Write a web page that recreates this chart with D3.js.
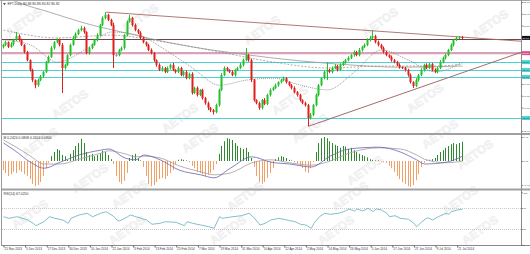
<!DOCTYPE html>
<html>
<head>
<meta charset="utf-8">
<script src="https://cdn.jsdelivr.net/npm/d3@7"></script>
<style>
  body { margin: 0; background: #fff; }
  svg { display: block; }
  text { font-family: "Liberation Sans", Arial, sans-serif; }
</style>
</head>
<body>
<svg id="chart" width="530" height="254"></svg>
<script>
// données (une barre par jour)
const closes = [
  80.60, 80.67, 80.55, 80.62, 80.73, 80.83, 80.73, 80.60, 80.42, 80.21,
  79.96, 79.70, 79.57, 79.70, 79.80, 79.91, 80.16, 80.29, 80.52, 80.67,
  80.73, 80.60, 80.01, 80.09, 80.34, 80.60, 80.78, 80.88, 80.98, 81.03,
  80.93, 80.39, 80.52, 80.60, 80.73, 80.85, 81.11, 81.29, 81.37, 81.24,
  81.11, 80.34, 80.34, 80.47, 80.52, 80.85, 81.19, 81.29, 81.11, 80.98,
  80.91, 80.78, 80.67, 80.60, 80.47, 80.39, 80.21, 80.09, 79.96, 80.01,
  79.91, 80.01, 80.09, 79.96, 79.91, 80.01, 79.83, 79.91, 79.75, 79.86,
  79.37, 79.50, 79.32, 79.45, 79.24, 79.11, 78.99, 78.93, 78.88, 79.06,
  79.45, 79.83, 80.01, 79.96, 79.91, 79.83, 79.96, 80.01, 80.09, 80.21,
  80.34, 80.21, 79.70, 79.19, 79.11, 78.99, 79.19, 79.09, 79.32, 79.45,
  79.50, 79.57, 79.65, 79.70, 79.75, 79.65, 79.57, 79.50, 79.39, 79.32,
  79.19, 79.11, 79.06, 78.73, 78.81, 79.06, 79.32, 79.57, 79.75, 79.91,
  79.96, 79.91, 80.01, 80.06, 79.96, 80.09, 80.16, 80.21, 80.27, 80.34,
  80.42, 80.34, 80.47, 80.55, 80.60, 80.73, 80.78, 80.83, 80.67, 80.60,
  80.52, 80.42, 80.34, 80.29, 80.21, 80.16, 80.09, 80.03, 80.01, 79.96,
  79.83, 79.65, 79.55, 79.70, 79.83, 79.96, 80.09, 80.01, 80.11, 79.96,
  79.91, 80.01, 80.16, 80.27, 80.34, 80.47, 80.60, 80.73, 80.78, 80.80, 80.78
];
const firstOpen = 80.55;

// mèches en centièmes
const wickUp = [
  3,4,2,5,3,10,4,3,2,3, 2,3,2,4,3,2,3,4,5,3, 4,3,5,3,2,3,5,4,3,6,
  4,2,3,4,3,5,3,4,7,3, 3,6,5,3,4,3,4,8,3,4, 3,4,3,2,3,4,3,2,4,5,
  3,4,3,5,2,4,3,3,4,3, 4,3,4,2,3,3,4,2,3,4, 3,5,4,3,2,4,3,3,5,4,
  18,3,4,3,2,4,3,5,3,4, 3,4,2,3,4,3,2,3,4,3, 3,2,4,3,5,3,4,3,2,4,
  20,3,4,5,3,4,3,3,4,3, 4,3,5,3,4,4,5,15,3,4, 3,4,3,2,4,3,3,4,2,3,
  3,4,2,5,3,4,3,4,3,3, 4,3,5,3,4,3,4,3,4,3,3
];
const wickDn = [
  4,3,3,2,4,3,4,3,4,3, 4,5,8,4,3,4,3,3,2,4, 3,4,64,4,3,3,2,4,3,3,
  4,3,4,3,2,4,3,3,4,3, 3,33,4,3,3,4,3,2,4,3, 3,4,3,4,3,3,4,5,3,4,
  3,3,4,3,4,3,3,4,3,3, 4,3,4,3,4,4,6,5,6,3, 4,3,3,4,3,3,4,3,3,4,
  3,4,5,4,3,5,4,3,3,4, 3,3,4,3,3,4,3,4,3,4, 4,3,4,21,4,3,3,4,3,3,
  21,3,4,3,4,3,3,4,3,3, 4,3,3,4,3,3,4,3,3,4, 3,4,3,3,4,3,3,4,3,4,
  4,4,5,3,4,3,4,3,3,4, 3,4,3,3,4,3,3,4,3,3,4
];

// moyennes mobiles (points relevés)
const maSlowBars = [3, 5, 17, 30, 47, 62, 91, 128, 147, 170];
const maSlow = [81.76, 81.70, 81.44, 81.16, 80.88, 80.65, 80.34, 80.09, 80.03, 80.06];
const maMidBars = [0, 20, 40, 60, 80, 100, 120, 140, 160, 170];
const maMid = [80.98, 80.78, 80.85, 80.67, 80.42, 80.16, 80.01, 80.06, 80.06, 80.11];
const maFastBars = [0, 10, 20, 30, 40, 50, 60, 70, 80, 90, 100, 110, 120, 130, 140, 150, 160, 170];
const maFast = [80.73, 80.60, 80.16, 80.47, 80.93, 80.85, 80.47, 80.01, 79.57, 79.70, 79.75, 79.57, 79.45, 79.91, 80.47, 80.21, 79.91, 80.16];

// niveaux horizontaux
const levelDark = 80.75;
const levelPink = 80.39;
const levelsCyan = [80.16, 79.96, 79.78, 78.73];

// lignes de tendance [barre, prix]
const trendDown = [[38, 81.44], [170, 80.80]];
const trendUp = [[113, 78.52], [170, 79.89]];

// MACD
const histo = [
  -0.15, -0.20, -0.25, -0.22,
  -0.18, -0.20, -0.15, -0.18, -0.22, -0.25, -0.30,
  -0.38, -0.42, -0.40, -0.35, -0.25,
  -0.12, -0.03,
  0.08, 0.15, 0.20, 0.18, 0.10, 0.08,
  0.02,
  0.12, 0.18, 0.25, 0.30, 0.37, 0.30,
  0.15, 0.10, 0.12, 0.08, 0.10,
  0.13, 0.17, 0.15, 0.10,
  0.03, -0.05,
  -0.25, -0.35, -0.38, -0.33, -0.20,
  0.05, 0.10, 0.12,
  0.05, 0.01,
  -0.10, -0.25, -0.38, -0.42, -0.40, -0.35, -0.30,
  -0.28, -0.30, -0.25,
  -0.20, -0.15, -0.05,
  0.02, 0.03, 0.02, 0.01, -0.02,
  -0.08, -0.12, -0.18, -0.20, -0.22, -0.25, -0.23, -0.20, -0.15,
  -0.05,
  0.12, 0.25, 0.33, 0.38, 0.37, 0.35, 0.30, 0.25, 0.22,
  0.20, 0.22, 0.15,
  0.05,
  -0.10, -0.25, -0.35, -0.38, -0.35, -0.28, -0.20, -0.12,
  0.03, 0.06, 0.08, 0.07, 0.05, 0.02,
  0.01, -0.02, -0.04, -0.08,
  -0.12, -0.18, -0.20, -0.12, -0.02,
  0.15, 0.30, 0.38, 0.40, 0.38, 0.33, 0.30, 0.27, 0.25,
  0.22, 0.25, 0.24, 0.20, 0.22, 0.18,
  0.15, 0.12, 0.10, 0.08, 0.06,
  0.03, 0.02, 0.01, 0.01, -0.01, -0.02, -0.03,
  -0.08, -0.12, -0.18, -0.25, -0.30,
  -0.35, -0.38, -0.42, -0.43, -0.40,
  -0.32, -0.22, -0.10, -0.03,
  0.01, 0.02, 0.03, 0.05,
  0.10, 0.15, 0.18, 0.22, 0.25, 0.28, 0.30, 0.28, 0.30, 0.32
];
const macdLineBars = [0, 4, 10, 15, 21, 28, 36, 39, 45, 49, 52, 58, 65, 73, 78, 84, 92, 99, 106, 114, 121, 128, 139, 147, 153, 156, 164, 170];
const macdMain = [0.30, 0.18, -0.02, -0.12, -0.02, 0.10, 0.18, 0.20, 0.05, 0.02, 0.10, 0.02, -0.15, -0.23, -0.28, -0.12, 0.07, -0.02, -0.05, -0.10, 0.08, 0.20, 0.23, 0.15, 0.02, -0.05, -0.02, 0.08];
const macdSignal = [0.35, 0.25, 0.08, -0.05, -0.05, 0.03, 0.13, 0.17, 0.12, 0.07, 0.08, 0.05, -0.08, -0.18, -0.23, -0.20, -0.03, 0.02, -0.03, -0.07, 0.00, 0.13, 0.22, 0.20, 0.10, 0.03, -0.03, 0.00];

// RSI
const rsiBars = [0, 2, 5, 9, 11, 12, 15, 17, 19, 22, 24, 25, 28, 31, 33, 36, 38, 41, 42, 43, 46, 47, 49, 53, 55, 58, 60, 64, 67, 68, 70, 73, 76, 78, 80, 81, 85, 88, 91, 93, 95, 97, 99, 102, 105, 108, 110, 112, 114, 115, 117, 119, 121, 124, 126, 128, 130, 131, 133, 135, 137, 138, 140, 142, 143, 145, 147, 150, 152, 153, 155, 157, 159, 161, 164, 165, 166, 168, 170];
const rsi = [53.4, 50.4, 53.4, 47.1, 40.9, 36.3, 43.9, 53.4, 50.4, 47.1, 40.9, 50.4, 56.7, 59.9, 53.4, 59.9, 63.0, 53.4, 47.1, 45.2, 53.4, 56.7, 53.4, 47.1, 39.0, 40.9, 43.9, 42.7, 36.3, 43.9, 40.9, 37.6, 34.4, 31.3, 53.4, 50.4, 53.4, 55.3, 59.9, 50.4, 37.6, 40.9, 47.1, 50.4, 47.1, 43.9, 39.0, 37.6, 31.3, 40.9, 53.4, 59.9, 58.0, 59.9, 63.0, 68.1, 64.3, 68.1, 64.3, 69.4, 63.0, 68.1, 66.2, 59.9, 53.4, 55.3, 50.4, 48.5, 40.9, 34.4, 43.9, 51.5, 47.1, 53.4, 59.9, 58.0, 63.0, 66.2, 67.5];
const rsiLevels = [70, 30];

// axes
const priceTicks = [81.70, 81.40, 81.10, 80.80, 80.50, 80.20, 79.90, 79.60, 79.30, 79.00, 78.70, 78.40];
const macdTicks = [0.40, 0.00, -0.40];
const rsiTicks = [100, 70, 30, 0];
const dateBars = [0, 8, 16, 24, 32, 40, 48, 56, 64, 72, 80, 88, 96, 104, 112, 120, 128, 136, 144, 152, 160, 168];
const dateLabels = ["21 Nov 2013", "5 Dec 2013", "17 Dec 2013", "30 Dec 2013", "10 Jan 2014", "22 Jan 2014",
  "3 Feb 2014", "13 Feb 2014", "25 Feb 2014", "7 Mar 2014", "19 Mar 2014", "31 Mar 2014", "10 Apr 2014",
  "22 Apr 2014", "2 May 2014", "14 May 2014", "26 May 2014", "5 Jun 2014", "17 Jun 2014", "27 Jun 2014",
  "9 Jul 2014", "21 Jul 2014"];

const titre = "EFT,Daily  80.86 80.86 80.82 80.82";
const titreMacd = "M 0.2424 0.0808 0.2404 0.0800";
const titreRsi = "RSI(14) 67.0250";

// ---------------------------------------------------------------
const plotL = 2, plotR = 521;
const mainTop = 1, mainBot = 133;
const macdTop = 135, macdBot = 188.5;
const rsiTop = 190.5, rsiBot = 245;
const axeFont = 2.5;

const svg = d3.select("#chart");

const x = d3.scaleLinear().domain([0, 191]).range([3.5, 3.5 + 191 * 2.7]);
const yPrix = d3.scaleLinear().domain([78.40, 81.70]).range([130.9, 1.95]);
const yMacd = d3.scaleLinear().domain([-0.45, 0.45]).range([188, 134]);
const yRsi = d3.scaleLinear().domain([0, 100]).range([244.75, 192.25]);

// clips
const defs = svg.append("defs");
[["clipMain", mainTop, mainBot], ["clipMacd", macdTop, macdBot], ["clipRsi", rsiTop, rsiBot]].forEach(c => {
  defs.append("clipPath").attr("id", c[0]).append("rect")
    .attr("x", plotL).attr("y", c[1]).attr("width", plotR - plotL).attr("height", c[2] - c[1]);
});

// filigrane
const marques = [[24, 22], [140, 18], [262, 30], [380, 22], [490, 24], [70, 104], [180, 118], [290, 100],
  [425, 98], [40, 142], [200, 138], [310, 128], [440, 134], [90, 178], [365, 170], [475, 154], [130, 194],
  [245, 196], [350, 196], [460, 200], [30, 214], [127, 230], [228, 230], [336, 230], [480, 230]];
svg.append("g").selectAll("text")
  .data(marques)
  .join("text")
  .attr("transform", d => "translate(" + d[0] + "," + d[1] + ") rotate(-35)")
  .attr("text-anchor", "middle")
  .attr("dy", "0.35em")
  .attr("font-size", 12)
  .attr("font-weight", "bold")
  .attr("fill", "#f5f5f5")
  .attr("stroke", "#e9e9e9")
  .attr("stroke-width", 0.4)
  .text("AETOS");

// ---------------- panneau principal
const gMain = svg.append("g").attr("clip-path", "url(#clipMain)");

// niveaux
levelsCyan.forEach(v => {
  gMain.append("line").attr("x1", plotL).attr("x2", plotR)
    .attr("y1", Math.round(yPrix(v)) + 0.5).attr("y2", Math.round(yPrix(v)) + 0.5)
    .attr("stroke", "#4cd4d4").attr("stroke-width", 1);
});
gMain.append("line").attr("x1", plotL).attr("x2", plotR)
  .attr("y1", yPrix(levelPink)).attr("y2", yPrix(levelPink))
  .attr("stroke", "#d9a2b6").attr("stroke-width", 2.2);
gMain.append("line").attr("x1", plotL).attr("x2", plotR)
  .attr("y1", Math.round(yPrix(levelDark)) + 0.5).attr("y2", Math.round(yPrix(levelDark)) + 0.5)
  .attr("stroke", "#6e4646").attr("stroke-width", 1);

// moyennes mobiles
function ligneMA(bars, vals, color, dash, width) {
  gMain.append("path")
    .datum(bars.map((b, i) => [b, vals[i]]))
    .attr("fill", "none")
    .attr("stroke", color)
    .attr("stroke-width", width)
    .attr("stroke-dasharray", dash)
    .attr("d", d3.line().x(d => x(d[0])).y(d => yPrix(d[1])).curve(d3.curveMonotoneX));
}
ligneMA(maSlowBars, maSlow, "#9a9a9a", null, 0.8);
ligneMA(maMidBars, maMid, "#8a8a8a", "2,1.5", 0.7);
ligneMA(maFastBars, maFast, "#707070", "1,1", 0.7);

// tendances
function tendance(pts, color) {
  const slope = (pts[1][1] - pts[0][1]) / (pts[1][0] - pts[0][0]);
  const bEnd = 192;
  gMain.append("line")
    .attr("x1", x(pts[0][0])).attr("y1", yPrix(pts[0][1]))
    .attr("x2", x(bEnd)).attr("y2", yPrix(pts[0][1] + slope * (bEnd - pts[0][0])))
    .attr("stroke", color).attr("stroke-width", 0.9);
}
tendance(trendDown, "#a86a6a");
tendance(trendUp, "#9c5a5a");

// bougies
const bougies = closes.map((c, i) => {
  const o = i === 0 ? firstOpen : closes[i - 1];
  return {
    i: i, o: o, c: c,
    h: Math.max(o, c) + wickUp[i] / 100,
    l: Math.min(o, c) - wickDn[i] / 100
  };
});
const couleur = d => d.c > d.o ? "#22c02a" : (d.c < d.o ? "#e0201c" : "#909090");

gMain.append("g").selectAll("rect")
  .data(bougies)
  .join("rect")
  .attr("x", d => Math.round(x(d.i)) - 1)
  .attr("width", 1)
  .attr("y", d => yPrix(d.h))
  .attr("height", d => yPrix(d.l) - yPrix(d.h))
  .attr("fill", couleur);

gMain.append("g").selectAll("rect")
  .data(bougies)
  .join("rect")
  .attr("x", d => Math.round(x(d.i)) - 1.5)
  .attr("width", 2)
  .attr("y", d => yPrix(Math.max(d.o, d.c)))
  .attr("height", d => Math.max(1, yPrix(Math.min(d.o, d.c)) - yPrix(Math.max(d.o, d.c))))
  .attr("fill", couleur);

// ---------------- MACD
const gMacd = svg.append("g").attr("clip-path", "url(#clipMacd)");
gMacd.append("g").selectAll("line")
  .data(histo)
  .join("line")
  .attr("x1", (d, i) => Math.round(x(i)) - 0.5)
  .attr("x2", (d, i) => Math.round(x(i)) - 0.5)
  .attr("y1", yMacd(0))
  .attr("y2", d => yMacd(d))
  .attr("stroke", d => d >= 0 ? "#2f8a2f" : "#f2a066")
  .attr("stroke-width", 1);

function ligneMacd(vals, color) {
  gMacd.append("path")
    .datum(macdLineBars.map((b, i) => [b, vals[i]]))
    .attr("fill", "none")
    .attr("stroke", color)
    .attr("stroke-width", 0.8)
    .attr("d", d3.line().x(d => x(d[0])).y(d => yMacd(d[1])).curve(d3.curveMonotoneX));
}
ligneMacd(macdSignal, "#a89a9a");
ligneMacd(macdMain, "#6a62b0");

// ---------------- RSI
const gRsi = svg.append("g").attr("clip-path", "url(#clipRsi)");
rsiLevels.forEach(v => {
  gRsi.append("line").attr("x1", plotL).attr("x2", plotR)
    .attr("y1", Math.round(yRsi(v)) + 0.5).attr("y2", Math.round(yRsi(v)) + 0.5)
    .attr("stroke", "#c8c8c8").attr("stroke-dasharray", "1,1");
});
gRsi.append("path")
  .datum(rsiBars.map((b, i) => [b, rsi[i]]))
  .attr("fill", "none")
  .attr("stroke", "#62aebb")
  .attr("stroke-width", 0.8)
  .attr("d", d3.line().x(d => x(d[0])).y(d => yRsi(d[1])));

// ---------------- cadres et séparateurs
svg.append("rect").attr("x", 0).attr("y", 0).attr("width", 530).attr("height", 1).attr("fill", "#a8a8a8");
svg.append("rect").attr("x", plotL - 1).attr("y", mainBot).attr("width", plotR - plotL + 10).attr("height", 2).attr("fill", "#a0a0a0");
svg.append("rect").attr("x", plotL - 1).attr("y", macdBot).attr("width", plotR - plotL + 10).attr("height", 2).attr("fill", "#a0a0a0");
svg.append("line").attr("x1", plotL - 0.5).attr("x2", plotL - 0.5).attr("y1", 0).attr("y2", rsiBot)
  .attr("stroke", "#9a9a9a");
svg.append("line").attr("x1", plotR + 0.5).attr("x2", plotR + 0.5).attr("y1", 0).attr("y2", rsiBot)
  .attr("stroke", "#8a8a8a");
svg.append("line").attr("x1", plotL - 1).attr("x2", 530).attr("y1", rsiBot + 0.5).attr("y2", rsiBot + 0.5)
  .attr("stroke", "#8a8a8a");

// niveaux qui ont leur propre étiquette : on masque les graduations qu'elles recouvrent
const etiquettes = levelsCyan.concat([levelPink, closes[closes.length - 1]]);
const prixLibres = priceTicks.filter(t => etiquettes.every(v => Math.abs(yPrix(t) - yPrix(v)) > 4.5));

// axes à droite
function axeDroit(scale, ticks, fmt) {
  const g = svg.append("g")
    .attr("transform", "translate(" + (plotR + 0.5) + ",0)")
    .call(d3.axisRight(scale).tickValues(ticks).tickSize(1.2).tickPadding(0.6).tickFormat(fmt));
  g.select(".domain").remove();
  g.selectAll("line").attr("stroke", "#666");
  g.selectAll("text").attr("font-size", axeFont).attr("fill", "#333");
}
axeDroit(yPrix, prixLibres, d3.format(".2f"));
axeDroit(yMacd, macdTicks, d3.format(".2f"));
axeDroit(yRsi, rsiTicks, d3.format("d"));

// étiquettes colorées des niveaux
function etiquette(v, bg, fg) {
  const yy = yPrix(v);
  svg.append("rect").attr("x", plotR + 1).attr("y", yy - 2).attr("width", 8).attr("height", 4).attr("fill", bg);
  svg.append("text").attr("x", plotR + 1.6).attr("y", yy).attr("dy", "0.35em")
    .attr("font-size", axeFont).attr("fill", fg).text(d3.format(".2f")(v));
}
levelsCyan.forEach(v => etiquette(v, "#4cd4d4", "#123"));
etiquette(levelPink, "#e0508a", "#fff");
etiquette(closes[closes.length - 1], "#111", "#fff");

// axe des dates
const gx = svg.append("g")
  .attr("transform", "translate(0," + (rsiBot + 0.5) + ")")
  .call(d3.axisBottom(x).tickValues(dateBars).tickSize(2).tickPadding(0.5)
    .tickFormat((d, i) => dateLabels[i]));
gx.select(".domain").remove();
gx.selectAll("line").attr("stroke", "#666");
gx.selectAll("text").attr("font-size", 3.1).attr("fill", "#333").attr("text-anchor", "start").attr("dx", 0.5);

// titres
svg.append("path").attr("d", "M3,3 L6,3 L4.5,5.2 Z").attr("fill", "#555");
svg.append("text").attr("x", 7.5).attr("y", 5.3).attr("font-size", 3.4).attr("fill", "#333").text(titre);
svg.append("text").attr("x", 3.5).attr("y", 139).attr("font-size", 3.4).attr("fill", "#333").text(titreMacd);
svg.append("text").attr("x", 3.5).attr("y", 195).attr("font-size", 3.4).attr("fill", "#333").text(titreRsi);
</script>
</body>
</html>
